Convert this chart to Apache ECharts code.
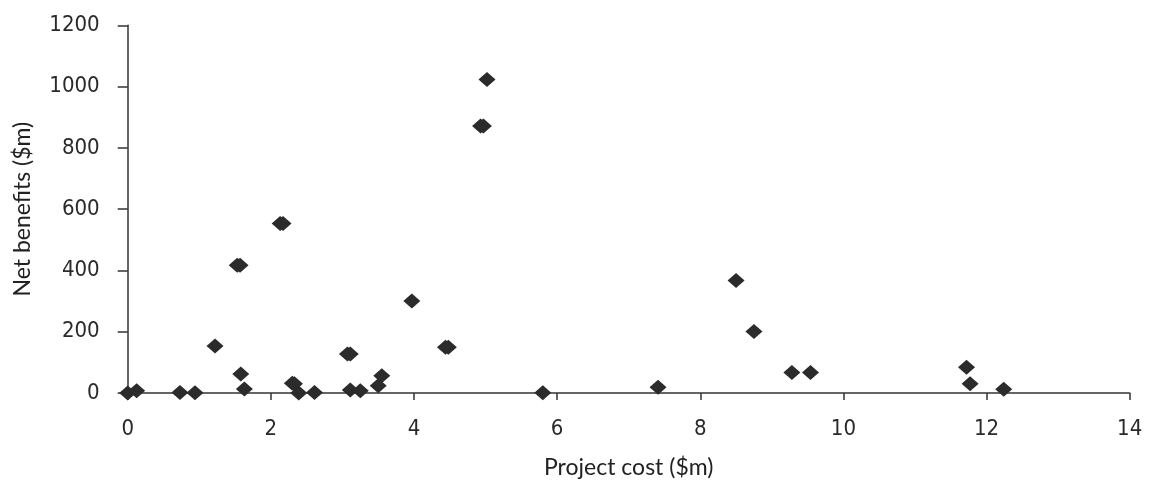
<!DOCTYPE html>
<html><head><meta charset="utf-8">
<script src="https://cdn.jsdelivr.net/npm/echarts@6/dist/echarts.min.js"></script>
<style>html,body{margin:0;padding:0;background:#fff}#c{width:1152px;height:481px}</style>
</head><body><div id="c"></div>
<script>
const projectCost = [0, 0.125, 0.73, 0.94, 1.22, 1.53, 1.57, 1.58, 1.63, 2.13, 2.17, 2.30, 2.33, 2.39, 2.61, 3.07, 3.11, 3.11, 3.25, 3.50, 3.55, 3.97, 4.44, 4.48, 4.93, 4.97, 5.02, 5.80, 7.41, 8.50, 8.75, 9.28, 9.54, 11.72, 11.77, 12.24];
const netBenefits = [0, 7, 2, 1, 153, 417, 417, 62, 13, 553, 553, 32, 30, 0, 2, 127, 127, 10, 7, 24, 56, 300, 149, 149, 871, 871, 1023, 1, 19, 367, 201, 67, 67, 84, 30, 12];
const xTicks = [0, 2, 4, 6, 8, 10, 12, 14];
const yTicks = [0, 200, 400, 600, 800, 1000, 1200];

const points = projectCost.map((x, i) => [x, netBenefits[i]]);
const tickFont = '"Liberation Sans Narrow", "DejaVu Sans Condensed", Lato';
const nameFont = 'Lato';
const chart = echarts.init(document.getElementById('c'));
chart.setOption({
  animation: false,
  grid: {left: 127.7, right: 22.3, top: 25.3, bottom: 88, containLabel: false, outerBoundsMode: 'none'},
  xAxis: {
    type: 'value', min: xTicks[0], max: xTicks[xTicks.length - 1], interval: 2,
    name: 'Project cost ($m)', nameLocation: 'middle', nameGap: 63,
    nameTextStyle: {fontFamily: nameFont, fontSize: 23, color: '#222'},
    axisLine: {show: true, lineStyle: {color: '#333', width: 1.5}},
    axisTick: {show: true, length: 7, lineStyle: {color: '#333', width: 1.5}},
    axisLabel: {fontFamily: tickFont, fontSize: 22, color: '#2a2a2a', margin: 25,
      formatter: v => String(v)},
    splitLine: {show: false}
  },
  yAxis: {
    type: 'value', min: yTicks[0], max: yTicks[yTicks.length - 1], interval: 200,
    name: 'Net benefits ($m)', nameLocation: 'middle', nameGap: 94, nameRotate: 90,
    nameTextStyle: {fontFamily: nameFont, fontSize: 23, color: '#222'},
    axisLine: {show: true, lineStyle: {color: '#333', width: 1.5}},
    axisTick: {show: true, length: 10, lineStyle: {color: '#333', width: 1.5}},
    axisLabel: {fontFamily: tickFont, fontSize: 22, color: '#2a2a2a', margin: 28,
      formatter: v => String(v)},
    splitLine: {show: false}
  },
  series: [{
    type: 'scatter', data: points, symbol: 'diamond', symbolSize: [17, 15],
    itemStyle: {color: '#2b2b2b', opacity: 1}
  }]
});
</script></body></html>
